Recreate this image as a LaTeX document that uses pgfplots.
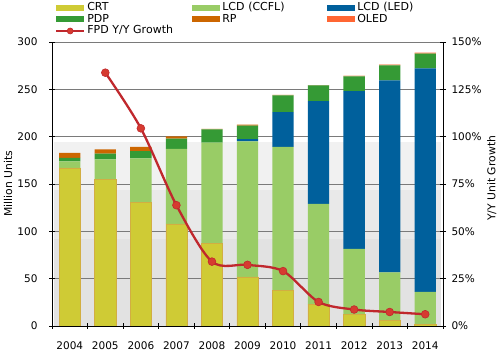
\documentclass[border=0pt]{standalone}
\usepackage{fontspec}
\setmainfont{DejaVu Sans}
\usepackage{pgfplots}
\usepackage{pgfplotstable}
\pgfplotsset{compat=1.18}
\definecolor{crt}{HTML}{CFCB35}
\definecolor{crtedge}{HTML}{D2AE42}
\definecolor{ccfl}{HTML}{99CC66}
\definecolor{led}{HTML}{00609C}
\definecolor{pdp}{HTML}{359A35}
\definecolor{rp}{HTML}{CC6600}
\definecolor{oled}{HTML}{FF6633}
\definecolor{gline}{HTML}{C0282D}
\definecolor{gmark}{HTML}{D63B30}
\definecolor{bgA}{HTML}{E2E2E2}
\definecolor{bgB}{HTML}{E9E9E9}
\definecolor{bgC}{HTML}{F1F1F1}
\definecolor{gridc}{HTML}{7A7A7A}

\pgfplotstableread{
x crt ccfl led pdp rp oled
0 167 7 0 3.5 5.3 0
1 155 21 0 6 4.7 0
2 130.5 46.5 0 7.7 4.5 0
3 108 79 0 10.9 2.5 0
4 87 106.7 0 14 0.6 0
5 52 143 2.5 14.2 1 0
6 38 151.3 36.7 17.7 0.4 0
7 23 106 108.5 16.7 0.3 0
8 12.4 69 166.8 15.6 0.3 0.1
9 6 50.6 202.9 15.9 0.3 0.3
10 1.8 34.2 236.2 15.6 0.3 0.7
}\bars

\pgfplotstableread{
x g
1 133.8
2 104.4
3 63.8
4 34
5 32.3
6 29
7 12.7
8 8.7
9 7.4
10 6.2
}\growth

\pgfplotsset{
 barleg/.style={fill=#1, draw=none, legend image code/.code={\fill[##1] (0pt,-3pt) rectangle (28pt,3pt);}},
 lineleg/.style={legend image code/.code={\draw[mark repeat=2,mark phase=2,##1, mark size=3pt] plot coordinates {(0pt,0pt) (14pt,0pt) (28pt,0pt)};}},
 common/.style={width=391pt,height=284pt,scale only axis, at={(52pt,26pt)}, anchor=south west,
   xmin=-0.5,xmax=10.5, /pgf/number format/assume math mode=true,
   tick label style={font=\fontsize{10.5}{12}\selectfont},
   label style={font=\fontsize{10.8}{12}\selectfont},
   tick align=center, major tick length=6pt, tick style={black, line width=0.8pt}},
}

\begin{document}
\begin{tikzpicture}
\path[use as bounding box] (0,0) rectangle (500pt,352pt);
% background bands
\begin{axis}[common, hide axis, ymin=0, ymax=300]
\addplot[fill=bgA, draw=none] coordinates {(-0.45,0) (10.43,0) (10.43,91.5) (-0.45,91.5)} -- cycle;
\addplot[fill=bgB, draw=none] coordinates {(-0.45,91.5) (10.43,91.5) (10.43,144) (-0.45,144)} -- cycle;
\addplot[fill=bgC, draw=none] coordinates {(-0.45,144) (10.43,144) (10.43,194) (-0.45,194)} -- cycle;
\end{axis}
% bars
\begin{axis}[common, ymin=0, ymax=300, ytick={0,50,...,300},
  axis x line*=bottom, axis y line*=left, axis line style={line width=0.8pt},
  xtick={-0.5,0.5,...,10.5}, xticklabels={2004,2005,2006,2007,2008,2009,2010,2011,2012,2013,2014,{}},
  xticklabel style={xshift=17.77pt, yshift=-9pt},
  yticklabel style={xshift=-8pt},
  ymajorgrids, grid style={gridc, line width=0.7pt},
  ylabel={Million Units},
  ylabel style={at={(axis description cs:-0.112,0.5)}, anchor=center},
  ybar stacked, bar width=21.3pt]
\addplot[fill=crt, draw=crtedge, line width=0.4pt] table[x=x,y=crt] {\bars};
\addplot[fill=ccfl, draw=none] table[x=x,y=ccfl] {\bars};
\addplot[fill=led, draw=none] table[x=x,y=led] {\bars};
\addplot[fill=pdp, draw=none] table[x=x,y=pdp] {\bars};
\addplot[fill=rp, draw=none] table[x=x,y=rp] {\bars};
\addplot[fill=oled, draw=none] table[x=x,y=oled] {\bars};
\end{axis}
% growth line
\begin{axis}[common, ymin=0, ymax=150, ytick={0,25,...,150},
  axis y line*=right, axis x line=none, axis line style={line width=0.8pt},
  yticklabel={\pgfmathprintnumber{\tick}\%},
  yticklabel style={xshift=2pt},
  ylabel={Y/Y Unit Growth},
  ylabel style={at={(axis description cs:1.125,0.52)}, anchor=center},
  legend columns=3,
  legend style={at={(axis description cs:0.0077,1.140)}, anchor=north west, draw=none, fill=none,
    inner sep=0pt, outer sep=0pt, font=\fontsize{11}{12}\selectfont,
    nodes={text width=103pt, align=left, inner xsep=2pt, inner ysep=1pt, text height=7.5pt, text depth=2pt},
    /tikz/every even column/.append style={column sep=0pt}},
  legend cell align=left]
\addlegendimage{barleg=crt}
\addlegendentry{CRT}
\addlegendimage{barleg=ccfl}
\addlegendentry{LCD (CCFL)}
\addlegendimage{barleg=led}
\addlegendentry{LCD (LED)}
\addlegendimage{barleg=pdp}
\addlegendentry{PDP}
\addlegendimage{barleg=rp}
\addlegendentry{RP}
\addlegendimage{barleg=oled}
\addlegendentry{OLED}
\addplot[gline, line width=2.3pt, smooth, mark=*, mark size=3.9pt,
  mark options={fill=gmark, draw=gline, line width=0.6pt}, lineleg]
  table[x=x,y=g] {\growth};
\addlegendentry{FPD Y/Y Growth}
\end{axis}
\end{tikzpicture}
\end{document}
